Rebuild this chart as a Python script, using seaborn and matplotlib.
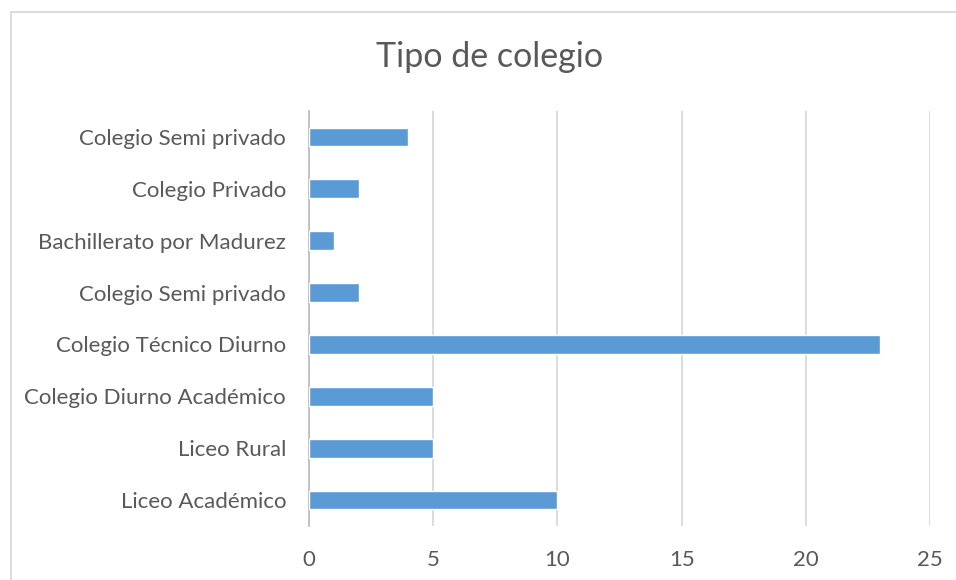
import matplotlib
matplotlib.use("Agg")
import matplotlib.pyplot as plt
import seaborn as sns
import pandas as pd
from matplotlib.patches import Rectangle

categories = [
    "Colegio Semi privado",
    "Colegio Privado",
    "Bachillerato por Madurez",
    "Colegio Semi privado",
    "Colegio Técnico Diurno",
    "Colegio Diurno Académico",
    "Liceo Rural",
    "Liceo Académico",
]
values = [4, 2, 1, 2, 23, 5, 5, 10]
x_ticks = [0, 5, 10, 15, 20, 25]

sns.set_theme(style="white")
plt.rcParams["font.family"] = ["Lato", "DejaVu Sans"]

keys = [f"k{i}" for i in range(len(categories))]
df = pd.DataFrame({"key": keys, "label": categories, "value": values})

fig = plt.figure(figsize=(9.56, 5.8), dpi=100)
ax = fig.add_axes([309 / 956, 1 - 526 / 580, (930 - 309) / 956, (526 - 111) / 580])

sns.barplot(data=df, x="value", y="key", order=keys, orient="h",
            color="#5B9BD5", width=0.36, saturation=1, ax=ax, zorder=3)

ax.set_xlim(0, 25)
ax.set_xticks(x_ticks)
ax.set_xticklabels([str(t) for t in x_ticks])
ax.set_yticks(range(len(categories)))
ax.set_yticklabels(categories)
ax.set_ylim(len(categories) - 0.5, -0.5)
ax.set_xlabel("")
ax.set_ylabel("")

ax.grid(axis="x", color="#d9d9d9", linewidth=1.3, zorder=0)
ax.set_axisbelow(True)
for s in ["top", "right", "bottom"]:
    ax.spines[s].set_visible(False)
ax.spines["left"].set_color("#bfbfbf")
ax.spines["left"].set_linewidth(1.3)
ax.tick_params(axis="both", length=0, colors="#595959", labelsize=16)
ax.tick_params(axis="x", pad=17)
ax.tick_params(axis="y", pad=16.5)

fig.text(490 / 956, 1 - 57 / 580, "Tipo de colegio", ha="center", va="center",
         fontsize=24.5, color="#595959")

fig.patches.append(Rectangle((10.5 / 956, -0.1), 1.2, 1 - 11.5 / 580 + 0.1,
                             transform=fig.transFigure, fill=False,
                             edgecolor="#d9d9d9", linewidth=1.3))

fig.savefig("out.png", dpi=100)
